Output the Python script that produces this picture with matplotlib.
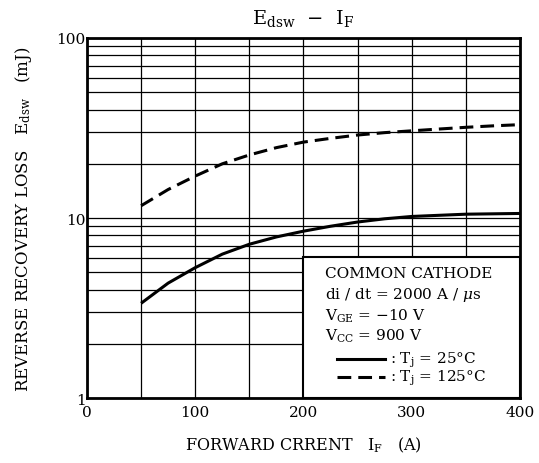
import matplotlib
matplotlib.use("Agg")
import matplotlib.pyplot as plt
from matplotlib.lines import Line2D
from matplotlib.patches import Rectangle

current = [50, 75, 100, 125, 150, 175, 200, 225, 250, 275, 300, 325, 350, 375, 400]
edsw_25 = [3.36, 4.35, 5.3, 6.3, 7.15, 7.85, 8.45, 9.0, 9.5, 9.9, 10.2, 10.35, 10.5, 10.55, 10.6]
edsw_125 = [11.7, 14.4, 17.1, 20.0, 22.4, 24.6, 26.4, 27.7, 28.9, 29.8, 30.5, 31.2, 31.9, 32.5, 33.0]

x_ticks = [0, 100, 200, 300, 400]
y_ticks = [1, 10, 100]

plt.rcParams.update(
    {
        "font.family": "DejaVu Serif",
        "mathtext.fontset": "dejavuserif",
        "font.size": 10,
    }
)

fig = plt.figure(figsize=(5.39, 4.64), dpi=100)
ax = fig.add_axes([0.1614, 0.140, 0.8033, 0.776])

ax.plot(current, edsw_25, color="black", linewidth=2.2, solid_capstyle="butt")
ax.plot(current, edsw_125, color="black", linewidth=2.2, linestyle=(0, (4.5, 2.3)))

ax.set_yscale("log")
ax.set_xlim(0, 400)
ax.set_ylim(1, 100)
ax.set_xticks(x_ticks, labels=[str(v) for v in x_ticks])
ax.set_yticks(y_ticks, labels=[str(v) for v in y_ticks])
ax.minorticks_on()
ax.set_xticks(range(0, 401, 50), minor=True)
ax.tick_params(which="both", length=0, labelsize=11, colors="black")
ax.tick_params(axis="x", pad=5)
ax.tick_params(axis="y", pad=1)
ax.grid(True, which="both", color="black", linewidth=0.9)
for side in ax.spines.values():
    side.set_linewidth(2)

# condition box
ax.add_patch(Rectangle((0.499, 0.0), 0.501, 0.392, transform=ax.transAxes,
                       facecolor="white", edgecolor="black", linewidth=1.5, zorder=3))
tx = 0.549
lines = [
    (0.347, "COMMON CATHODE"),
    (0.289, r"di / dt = 2000 A / $\mu$s"),
    (0.231, r"V$_{\mathregular{GE}}$ = $-$10 V"),
    (0.173, r"V$_{\mathregular{CC}}$ = 900 V"),
]
for y, s in lines:
    ax.text(tx, y, s, transform=ax.transAxes, fontsize=11, va="center", ha="left", zorder=4)
ax.add_line(Line2D([0.577, 0.688], [0.108, 0.108], transform=ax.transAxes,
                   color="black", linewidth=2.2, zorder=4))
ax.add_line(Line2D([0.577, 0.688], [0.058, 0.058], transform=ax.transAxes,
                   color="black", linewidth=2.2, linestyle=(0, (4.5, 2.3)), zorder=4))
ax.text(0.70, 0.108, r": T$_{\mathregular{j}}$ = 25°C", transform=ax.transAxes,
        fontsize=11, va="center", ha="left", zorder=4)
ax.text(0.70, 0.058, r": T$_{\mathregular{j}}$ = 125°C", transform=ax.transAxes,
        fontsize=11, va="center", ha="left", zorder=4)

ax.set_title(r"E$_{\mathregular{dsw}}$  $-$  I$_{\mathregular{F}}$", fontsize=14, pad=11)
ax.set_xlabel(r"FORWARD CRRENT   I$_{\mathregular{F}}$   (A)", fontsize=11.5, labelpad=11)
ax.set_ylabel(r"REVERSE RECOVERY LOSS   E$_{\mathregular{dsw}}$   (mJ)", fontsize=12, labelpad=16)

fig.savefig("out.png", dpi=100)
